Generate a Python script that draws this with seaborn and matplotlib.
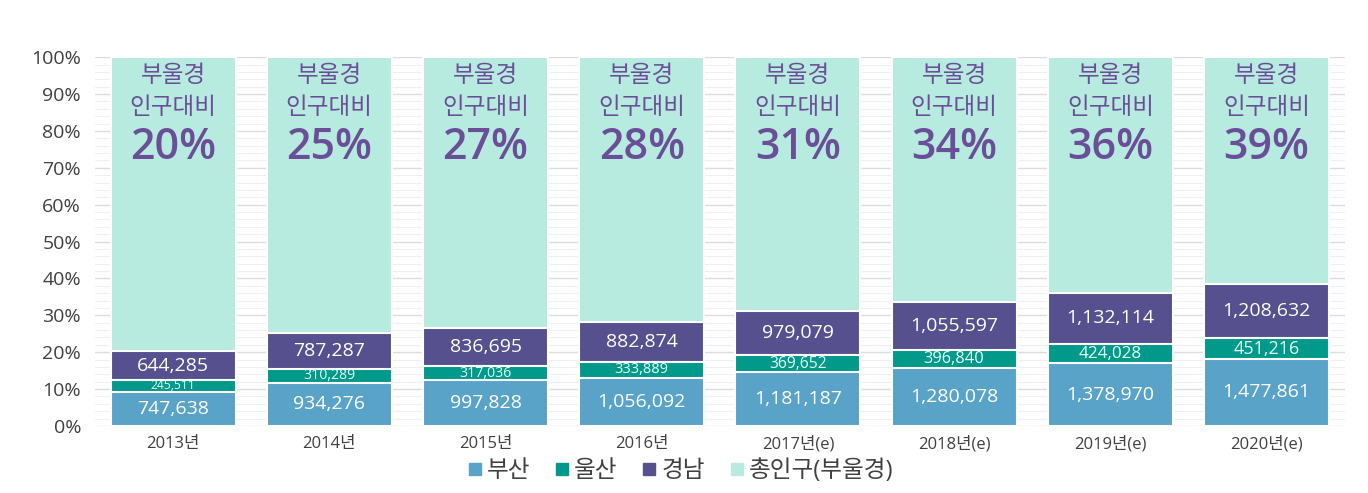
import matplotlib
matplotlib.use("Agg")
import matplotlib.pyplot as plt
import matplotlib.ticker as mticker
from matplotlib.lines import Line2D
import pandas as pd
import seaborn as sns

# values
years = ["2013년", "2014년", "2015년", "2016년",
         "2017년(e)", "2018년(e)", "2019년(e)", "2020년(e)"]
busan = [747638, 934276, 997828, 1056092, 1181187, 1280078, 1378970, 1477861]
ulsan = [245511, 310289, 317036, 333889, 369652, 396840, 424028, 451216]
gyeongnam = [644285, 787287, 836695, 882874, 979079, 1055597, 1132114, 1208632]
# total population (부울경)
total_pop = [8030000, 8030000, 8060000, 8060000, 8110000, 8110000, 8130000, 8130000]
share_labels = ["20%", "25%", "27%", "28%", "31%", "34%", "36%", "39%"]

C_BUSAN = "#5aa3c8"
C_ULSAN = "#00998a"
C_GN = "#56508f"
C_TOTAL = "#b8ebdf"
C_TEXT = "#6a4f98"

sns.set_theme(style="white")
plt.rcParams["font.family"] = ["Open Sans", "Noto Sans CJK KR", "DejaVu Sans"]

df = pd.DataFrame({"year": years, "busan": busan, "ulsan": ulsan,
                   "gyeongnam": gyeongnam, "total": total_pop})
df["p_busan"] = df["busan"] / df["total"] * 100
df["p_ulsan"] = df["ulsan"] / df["total"] * 100
df["p_gn"] = df["gyeongnam"] / df["total"] * 100
df["c_ulsan"] = df["p_busan"] + df["p_ulsan"]
df["c_gn"] = df["c_ulsan"] + df["p_gn"]
df["c_total"] = 100.0

fig = plt.figure(figsize=(13.68, 4.93), dpi=100)
ax = fig.add_axes([0.0694, 0.136, 0.9136, 0.748])

# gridlines (minor every 2%, major every 10%)
ax.set_ylim(0, 100)
ax.yaxis.set_major_locator(mticker.MultipleLocator(10))
ax.yaxis.set_minor_locator(mticker.MultipleLocator(2))
ax.grid(which="major", axis="y", color="#dcdcdc", linewidth=1.0)
ax.grid(which="minor", axis="y", color="#efefef", linewidth=0.8)
ax.set_axisbelow(True)

layers = [("c_total", C_TOTAL), ("c_gn", C_GN), ("c_ulsan", C_ULSAN), ("p_busan", C_BUSAN)]
for col, color in layers:
    sns.barplot(data=df, x="year", y=col, color=color, width=0.8,
                edgecolor="white", linewidth=1.5, saturation=1, ax=ax)

for i, row in df.iterrows():
    ax.text(i, row["p_busan"] / 2, f"{row['busan']:,}", ha="center", va="center",
            color="white", fontsize=14, fontweight="medium")
    fs_u = min(13.5, 3.5 + 1.7 * row["p_ulsan"])
    ax.text(i, row["p_busan"] + row["p_ulsan"] / 2, f"{row['ulsan']:,}",
            ha="center", va="center", color="#e6fff9", fontsize=fs_u)
    ax.text(i, row["c_ulsan"] + row["p_gn"] / 2, f"{row['gyeongnam']:,}",
            ha="center", va="center", color="white", fontsize=14, fontweight="medium")
    ax.text(i, 95, "부울경", ha="center", va="center", color=C_TEXT, fontsize=17,
            fontweight="medium")
    ax.text(i, 86.3, "인구대비", ha="center", va="center", color=C_TEXT, fontsize=17,
            fontweight="medium")
    ax.text(i, 75.5, share_labels[i], ha="center", va="center", color=C_TEXT,
            fontsize=31, fontweight="semibold")

ax.set_xlim(-0.5, len(years) - 0.5)
ax.yaxis.set_major_formatter(mticker.FuncFormatter(lambda v, _: f"{v:.0f}%"))
ax.tick_params(axis="y", which="both", length=0, labelsize=14, labelcolor="#404040", pad=10)
ax.tick_params(axis="x", length=0, labelsize=12, labelcolor="#404040", pad=7)
ax.set_xlabel("")
ax.set_ylabel("")
for s in ax.spines.values():
    s.set_visible(False)

handles = [Line2D([0], [0], marker="s", linestyle="", markersize=8,
                  markerfacecolor=c, markeredgecolor=c)
           for c in [C_BUSAN, C_ULSAN, C_GN, C_TOTAL]]
fig.legend(handles, ["부산", "울산", "경남", "총인구(부울경)"], loc="center",
           bbox_to_anchor=(0.497, 0.045), ncol=4, frameon=False,
           handlelength=0.7, handletextpad=0.15, columnspacing=1.0,
           labelcolor="#404040", prop={"weight": "medium", "size": 17})

fig.savefig("out.png", dpi=100)
